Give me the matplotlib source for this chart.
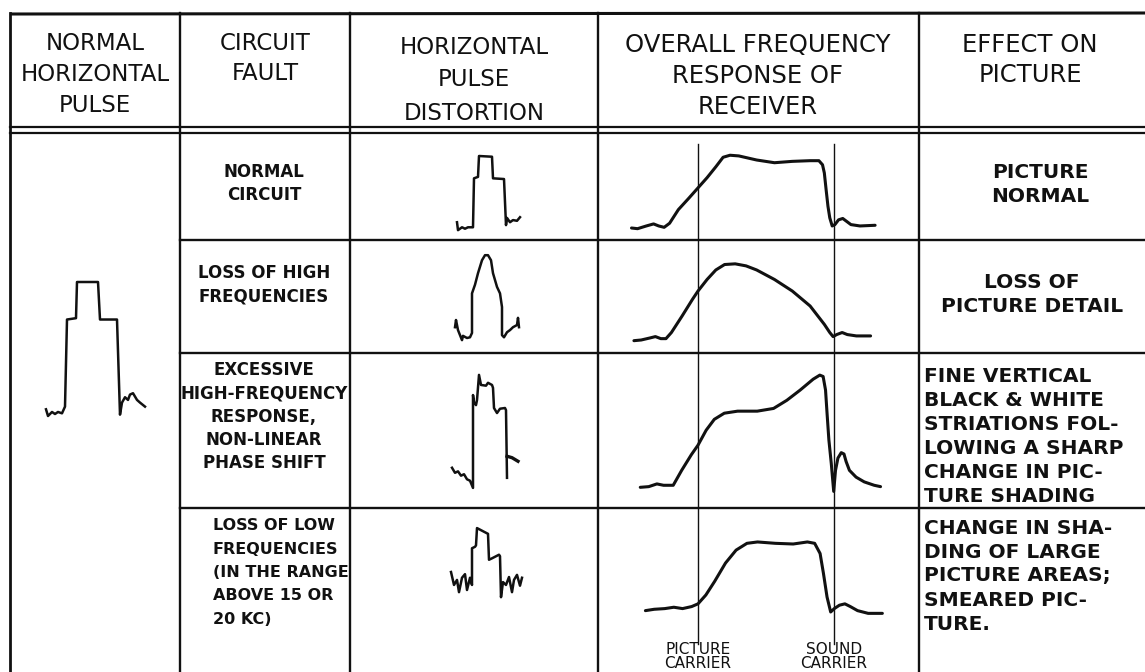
import matplotlib.pyplot as plt

W, H = 1145, 672

# --------------------- data ---------------------

headers = [["NORMAL", "HORIZONTAL", "PULSE"],
           ["CIRCUIT", "FAULT"],
           ["HORIZONTAL", "PULSE", "DISTORTION"],
           ["OVERALL FREQUENCY", "RESPONSE OF", "RECEIVER"],
           ["EFFECT ON", "PICTURE"]]

faults = [["NORMAL", "CIRCUIT"],
          ["LOSS OF HIGH", "FREQUENCIES"],
          ["EXCESSIVE", "HIGH-FREQUENCY", "RESPONSE,", "NON-LINEAR", "PHASE SHIFT"],
          ["LOSS OF LOW", "FREQUENCIES", "(IN THE RANGE", "ABOVE 15 OR", "20 KC)"]]

effects = [["PICTURE", "NORMAL"],
           ["LOSS OF", "PICTURE DETAIL"],
           ["FINE VERTICAL", "BLACK & WHITE", "STRIATIONS FOL-", "LOWING A SHARP",
            "CHANGE IN PIC-", "TURE SHADING"],
           ["CHANGE IN SHA-", "DING OF LARGE", "PICTURE AREAS;", "SMEARED PIC-", "TURE."]]

# normal horizontal pulse (time in us, level in %)
normal_t = [1.1, 1.3, 1.7, 2.0, 2.3, 2.7, 3.0, 3.2, 4.1, 4.2, 6.3, 6.5, 8.2, 8.5,
            8.7, 9.0, 9.3, 9.5, 9.8, 10.2, 10.5, 11.0]
normal_v = [5, 0, 3, 1.5, 3, 2, 7, 72, 73, 100, 100, 72, 72, 1,
            10, 14, 12, 16, 17, 12, 10, 7]

# distorted pulses, one per fault row
dist_t1 = [1.2, 1.3, 1.7, 2.0, 2.3, 2.8, 2.9, 3.3, 3.4, 4.7, 4.8, 5.9, 6.1, 6.2, 6.5, 6.8, 7.2, 7.5]
dist_v1 = [8, -3, 1, -1, 1, 1, 69, 71, 100, 99, 69, 68, 4, 14, 8, 11, 10, 15]

dist_t2 = [1.0, 1.1, 1.3, 1.5, 1.7, 1.8, 2.2, 2.5, 2.7, 2.7, 3.0, 3.3, 3.7, 4.0, 4.3, 4.6,
           4.8, 5.2, 5.5, 5.7, 5.7, 5.9, 6.2, 6.5, 6.8, 7.2, 7.3, 7.4]
dist_v2 = [15, 25, 11, 4, -3, 3, 0, 1, 7, 62, 74, 90, 108, 115, 115, 108,
           90, 71, 62, 43, 4, 1, 8, 11, 15, 18, 28, 15]

dist_t3 = [0.7, 1.0, 1.3, 1.6, 1.9, 2.2, 2.5, 2.8, 2.8, 2.9, 3.1, 3.2, 3.4, 3.6, 4.1, 4.3,
           4.7, 4.8, 4.9, 5.2, 5.5, 6.0, 6.1, 6.2]
dist_v3 = [17, 10, 12, 6, 8, 1, -1, -11, 118, 108, 104, 111, 146, 132, 131, 135,
           132, 128, 100, 93, 99, 100, 97, 3]
flag_t3 = [6.2, 6.7, 7.3]
flag_v3 = [33, 31, 26]

dist_t4 = [0.6, 0.9, 1.2, 1.4, 1.7, 2.0, 2.2, 2.5, 2.7, 2.7, 3.0, 3.1, 3.2, 4.3, 4.4, 4.7,
           5.4, 5.5, 5.6, 5.8, 6.1, 6.4, 6.7, 6.9, 7.2, 7.5, 7.7]
dist_v4 = [25, 7, 14, -3, 17, 22, 0, 17, 7, 58, 60, 62, 86, 78, 42, 44,
           49, 47, -10, 11, 7, 18, -3, 14, 21, 6, 17]

# overall frequency response (MHz from picture carrier, relative amplitude)
resp_f1 = [-2.20, -2.00, -1.71, -1.47, -1.30, -1.12, -0.94, -0.65, -0.30, 0, 0.30, 0.59,
           0.83, 1.06, 1.35, 1.94, 2.53, 3.12, 3.71, 4.00, 4.12, 4.18, 4.24, 4.30, 4.36,
           4.44, 4.53, 4.65, 4.79, 4.91, 5.06, 5.36, 5.86]
resp_a1 = [0, -0.01, 0.03, 0.06, 0.03, 0.01, 0.07, 0.27, 0.44, 0.59, 0.74, 0.90,
           1.04, 1.07, 1.06, 1.00, 0.96, 0.98, 0.99, 0.99, 0.93, 0.81, 0.56, 0.32, 0.15,
           0.03, 0.05, 0.12, 0.14, 0.10, 0.05, 0.03, 0.04]

resp_f2 = [-2.12, -1.88, -1.59, -1.41, -1.23, -1.06, -0.88, -0.53, -0.18, 0, 0.30, 0.59,
           0.88, 1.23, 1.59, 1.94, 2.53, 3.12, 3.71, 4.18, 4.36, 4.47, 4.59, 4.77, 4.94,
           5.24, 5.71]
resp_a2 = [-0.01, 0, 0.03, 0.05, 0.02, 0.02, 0.11, 0.35, 0.60, 0.72, 0.89, 1.03,
           1.11, 1.12, 1.09, 1.03, 0.89, 0.72, 0.50, 0.23, 0.11, 0.05, 0.08, 0.11, 0.08,
           0.06, 0.06]

resp_f3 = [-1.91, -1.63, -1.36, -1.14, -0.82, -0.54, -0.22, 0, 0.27, 0.54, 0.87, 1.31,
           1.96, 2.50, 2.94, 3.38, 3.81, 4.03, 4.14, 4.22, 4.27, 4.33, 4.41, 4.49, 4.55,
           4.63, 4.74, 4.83, 4.90, 5.01, 5.23, 5.50, 5.83, 6.04]
resp_a3 = [0.01, 0.02, 0.06, 0.04, 0.04, 0.26, 0.49, 0.63, 0.85, 1.01, 1.10, 1.13,
           1.13, 1.17, 1.29, 1.44, 1.60, 1.66, 1.64, 1.44, 1.10, 0.71, 0.36, -0.05, 0.26,
           0.44, 0.52, 0.50, 0.39, 0.26, 0.16, 0.09, 0.04, 0.02]

resp_f4 = [-1.74, -1.45, -1.10, -0.80, -0.51, -0.21, 0, 0.26, 0.55, 0.91, 1.26, 1.62,
           1.97, 2.56, 3.15, 3.62, 3.86, 4.04, 4.15, 4.27, 4.39, 4.51, 4.68, 4.86, 5.04,
           5.28, 5.63, 6.10]
resp_a4 = [0.02, 0.04, 0.05, 0.07, 0.05, 0.08, 0.12, 0.25, 0.45, 0.72, 0.91, 1.01,
           1.03, 1.01, 1.00, 1.03, 1.01, 0.86, 0.57, 0.22, 0.00, 0.05, 0.10, 0.12, 0.08,
           0.02, -0.02, -0.02]

carrier_f = [0, 4.5]
carrier_labels = [["PICTURE", "CARRIER"], ["SOUND", "CARRIER"]]

# --------------------- layout (pixels) ---------------------

col_x = [10, 180, 350, 598, 919]
row_y = [133, 240, 353, 508, H]
ink = "#111111"

fig = plt.figure(figsize=(W / 100, H / 100), dpi=100)
frame = fig.add_axes([0, 0, 1, 1])
frame.set_xlim(0, W)
frame.set_ylim(H, 0)
frame.axis("off")


def overlay(x0, x1, y0, y1, ox, oy, sx, sy):
    # axes over a pixel box; data origin at pixel (ox, oy), sx/sy pixels per unit
    a = fig.add_axes([x0 / W, 1 - y1 / H, (x1 - x0) / W, (y1 - y0) / H])
    a.set_xlim((x0 - ox) / sx, (x1 - ox) / sx)
    a.set_ylim((oy - y1) / sy, (oy - y0) / sy)
    a.set_facecolor("none")
    a.axis("off")
    return a


# table rules
frame.plot([10, W], [14, 13], color=ink, lw=2.2, solid_capstyle="butt")
frame.plot([10, W], [127, 127], color=ink, lw=1.6)
frame.plot([10, W], [133, 133], color=ink, lw=1.6)
for x in col_x:
    frame.plot([x, x], [13, H], color=ink, lw=2.0 if x == 10 else 1.7)
for y in row_y[1:-1]:
    frame.plot([col_x[1], W], [y, y], color=ink, lw=1.7)

# header text
head_cx = [95, 265, 474, 758, 1030]
head_y0 = [43, 43, 47, 45, 45]
head_dy = [31.5, 30, 33, 31, 30]
head_fs = [16.5, 16.5, 16.5, 17.5, 17.5]
for lines, cx, y0, dy, fs in zip(headers, head_cx, head_y0, head_dy, head_fs):
    for i, s in enumerate(lines):
        frame.text(cx, y0 + i * dy, s, ha="center", va="center", fontsize=fs,
                   color=ink, family="DejaVu Sans")

# circuit fault text
fault_y0 = [172, 273, 370, 526]
for r, lines in enumerate(faults):
    for i, s in enumerate(lines):
        if r == 3:
            frame.text(213, fault_y0[r] + i * 23.3, s, ha="left", va="center",
                       fontsize=11.5, weight="bold", color=ink)
        else:
            frame.text(264, fault_y0[r] + i * 23.3, s, ha="center", va="center",
                       fontsize=12, weight="bold", color=ink)

# effect on picture text
eff_y0 = [172, 282, 376, 528]
for r, lines in enumerate(effects):
    for i, s in enumerate(lines):
        if r < 2:
            frame.text([1040, 1032][r], eff_y0[r] + i * 24, s, ha="center", va="center",
                       fontsize=14.5, weight="bold", color=ink)
        else:
            frame.text(924, eff_y0[r] + i * 24, s, ha="left", va="center",
                       fontsize=14.5, weight="bold", color=ink)

# normal horizontal pulse
ax = overlay(col_x[0], col_x[1], row_y[0], H, 35, 416, 10, 1.34)
ax.plot(normal_t, normal_v, color=ink, lw=1.8, solid_joinstyle="round", clip_on=False)

# distorted pulses
dist = [(dist_t1, dist_v1), (dist_t2, dist_v2), (dist_t3, dist_v3), (dist_t4, dist_v4)]
pulse_base = [228, 338, 480, 590]
for r, (t, v) in enumerate(dist):
    ax = overlay(col_x[2], col_x[3], row_y[r], row_y[r + 1], 445, pulse_base[r], 10, 0.72)
    ax.plot(t, v, color=ink, lw=1.8, solid_joinstyle="round", clip_on=False)
    if r == 2:
        ax.plot(flag_t3, flag_v3, color=ink, lw=2.4, clip_on=False)

# frequency response
mhz_px = (834 - 698) / 4.5
carr = overlay(col_x[3], col_x[4], row_y[0], H, 698, 0, mhz_px, -1)
for f, lab in zip(carrier_f, carrier_labels):
    carr.plot([f, f], [144, 644], color=ink, lw=1.0)
    carr.text(f, 649, lab[0], ha="center", va="center", fontsize=11, color=ink)
    carr.text(f, 664, lab[1], ha="center", va="center", fontsize=11, color=ink)

resp = [(resp_f1, resp_a1), (resp_f2, resp_a2), (resp_f3, resp_a3), (resp_f4, resp_a4)]
resp_base = [228, 340, 488, 612]
for r, (f, a) in enumerate(resp):
    ax = overlay(col_x[3], col_x[4], row_y[r], row_y[r + 1], 698, resp_base[r], mhz_px, 68)
    ax.plot(f, a, color=ink, lw=2.2, solid_joinstyle="round", solid_capstyle="round",
            clip_on=False)

fig.savefig("out.png", dpi=100, facecolor="white")
